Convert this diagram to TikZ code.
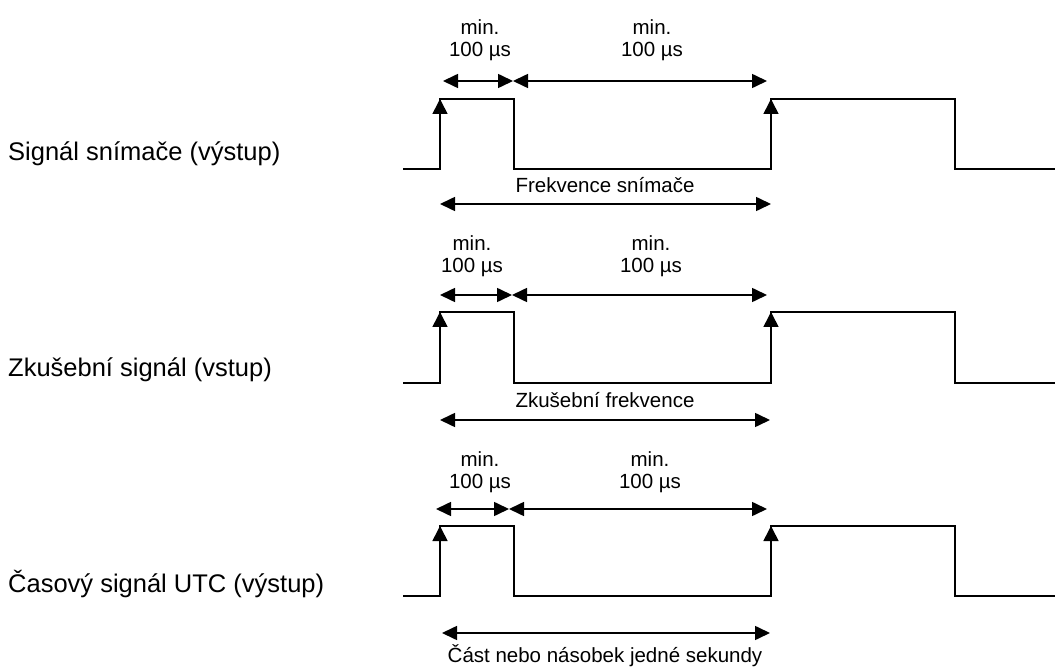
\documentclass[tikz,border=0pt]{standalone}
\usepackage{fontspec}
\setmainfont{Liberation Sans}
\usepackage{tikz}
\usetikzlibrary{arrows.meta}

\begin{document}
\begin{tikzpicture}[x=1pt,y=-1pt,line join=miter,
  sig/.style={line width=1.6pt},
  edge/.style={line width=1.6pt,-{Triangle[length=15pt,width=15pt]}},
  dim/.style={line width=1.6pt,{Triangle[length=15pt,width=14pt]}-{Triangle[length=15pt,width=14pt]}},
  lbl/.style={anchor=base west,inner sep=0pt,font=\fontsize{25.5}{30}\selectfont},
  txt/.style={anchor=base,inner sep=0pt,align=center,font=\fontsize{20.5}{22}\selectfont}]
\useasboundingbox (0,0) rectangle (1055,668);
% signal 1
\node[lbl] (l1) at (8,161) {Signál snímače (výstup)};
\draw[sig] (403,169) -- (440,169) -- (440,99) -- (514,99) -- (514,169) -- (771,169) -- (771,99) -- (955,99) -- (955,169) -- (1055,169);
\coordinate (e1) at (440,169);\coordinate (t1) at (440,99);
\coordinate (g1) at (771,169);\coordinate (h1) at (771,99);
\draw[edge] (e1)--(t1); \draw[edge] (g1)--(h1);
\coordinate (p1) at (443,81);\coordinate (q1) at (513,81);\coordinate (r1) at (767,81);
\draw[dim] (p1)--(q1); \draw[dim] (q1)--(r1);
\node[txt] (a1) at (480,57) {min.\\100 µs};
\node[txt] (b1) at (652,57) {min.\\100 µs};
\coordinate (u1) at (440,204);\coordinate (v1) at (771,204);
\draw[dim] (u1)--(v1);
\node[txt] (f1) at (605,193) {Frekvence snímače};
% signal 2
\node[lbl] (l2) at (8,376) {Zkušební signál (vstup)};
\draw[sig] (403,383) -- (440,383) -- (440,312) -- (514,312) -- (514,383) -- (771,383) -- (771,312) -- (955,312) -- (955,383) -- (1055,383);
\coordinate (e2) at (440,383);\coordinate (t2) at (440,312);
\coordinate (g2) at (771,383);\coordinate (h2) at (771,312);
\draw[edge] (e2)--(t2); \draw[edge] (g2)--(h2);
\coordinate (p2) at (440,295);\coordinate (q2) at (512,295);\coordinate (r2) at (767,295);
\draw[dim] (p2)--(q2); \draw[dim] (q2)--(r2);
\node[txt] (a2) at (472,273) {min.\\100 µs};
\node[txt] (b2) at (651,273) {min.\\100 µs};
\coordinate (u2) at (440,420);\coordinate (v2) at (770,420);
\draw[dim] (u2)--(v2);
\node[txt] (f2) at (605,407) {Zkušební frekvence};
% signal 3
\node[lbl] (l3) at (8,592) {Časový signál UTC (výstup)};
\draw[sig] (403,596) -- (440,596) -- (440,526) -- (514,526) -- (514,596) -- (771,596) -- (771,526) -- (955,526) -- (955,596) -- (1055,596);
\coordinate (e3) at (440,596);\coordinate (t3) at (440,526);
\coordinate (g3) at (771,596);\coordinate (h3) at (771,526);
\draw[edge] (e3)--(t3); \draw[edge] (g3)--(h3);
\coordinate (p3) at (436,509);\coordinate (q3) at (509,509);\coordinate (r3) at (767,509);
\draw[dim] (p3)--(q3); \draw[dim] (q3)--(r3);
\node[txt] (a3) at (480,488) {min.\\100 µs};
\node[txt] (b3) at (650,488) {min.\\100 µs};
\coordinate (u3) at (442,633);\coordinate (v3) at (770,633);
\draw[dim] (u3)--(v3);
\node[txt] (f3) at (605,662) {Část nebo násobek jedné sekundy};
\end{tikzpicture}
\end{document}
